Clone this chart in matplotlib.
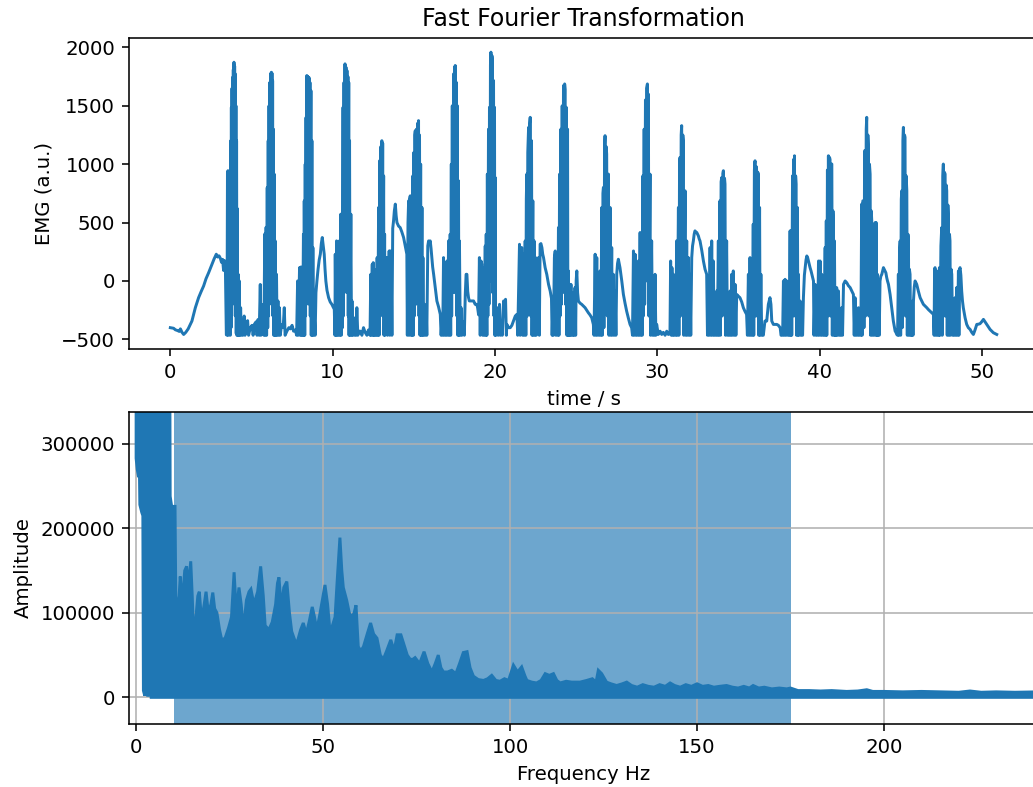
import numpy as np
import matplotlib
matplotlib.use('Agg')
import matplotlib.pyplot as plt
from matplotlib.ticker import MultipleLocator

# EMG trace as (time / s, amplitude / a.u.) pairs, split into chunks of ~10 s
emg_00_10 = [
    (0.00, -400), (0.20, -405), (0.31, -418), (0.45, -425), (0.55, -432), (0.62, -410), (0.72, -440),
    (0.82, -458), (0.95, -440), (1.10, -410), (1.33, -343), (1.54, -229), (1.74, -143), (1.90, -90),
    (2.05, -43), (2.20, 20), (2.36, 71), (2.57, 143), (2.70, 190), (2.83, 229), (2.92, 205), (3.00, 215),
    (3.08, 195), (3.15, 160), (3.22, 185), (3.28, 90), (3.33, 175), (3.39, 120), (3.45, -460),
    (3.49, -465), (3.52, 930), (3.55, 944), (3.57, -465), (3.60, 920), (3.62, -460), (3.66, 629),
    (3.69, -465), (3.72, 1200), (3.74, -400), (3.76, 1487), (3.78, -300), (3.80, 1650), (3.82, -200),
    (3.84, 1744), (3.86, -100), (3.88, 1810), (3.90, 0), (3.92, 1873), (3.94, 250), (3.96, 1840),
    (3.98, -100), (4.00, 1773), (4.02, -300), (4.04, 1500), (4.06, -450), (4.08, 1201), (4.10, -465),
    (4.12, 620), (4.15, -465), (4.18, 57), (4.21, -465), (4.25, 0), (4.28, -465), (4.33, -229),
    (4.37, -465), (4.42, -330), (4.47, -465), (4.55, -300), (4.60, -465), (4.68, -390), (4.76, -340),
    (4.82, -465), (4.93, -400), (5.03, -380), (5.10, -465), (5.18, -370), (5.28, -350), (5.34, -465),
    (5.40, -330), (5.47, -465), (5.54, -30), (5.58, -465), (5.64, -420), (5.72, -200), (5.76, -465),
    (5.82, 403), (5.85, -465), (5.90, 460), (5.93, -465), (5.97, 800), (6.00, -400), (6.03, 1201),
    (6.05, -300), (6.08, 1500), (6.10, -200), (6.13, 1700), (6.15, -100), (6.18, 1773), (6.20, 0),
    (6.22, 1787), (6.24, 200), (6.26, 1780), (6.28, -100), (6.30, 1716), (6.32, -300), (6.35, 1300),
    (6.37, -465), (6.40, 915), (6.43, -465), (6.46, 343), (6.50, -465), (6.54, 57), (6.58, -465),
    (6.63, -171), (6.67, -465), (6.72, -229), (6.77, -465), (6.85, -372), (6.95, -400), (7.02, -229),
    (7.07, -465), (7.18, -430), (7.30, -400), (7.39, -410), (7.50, -380), (7.59, -430), (7.70, -420),
    (7.78, -465), (7.84, 0), (7.88, -465), (7.96, 114), (8.00, -465), (8.05, 120), (8.08, -465),
    (8.11, 114), (8.15, -465), (8.20, 400), (8.23, -465), (8.25, 686), (8.28, -465), (8.31, 1000),
    (8.33, -300), (8.36, 1400), (8.38, -200), (8.41, 1759), (8.43, 0), (8.46, 1750), (8.48, -100),
    (8.50, 1745), (8.52, 100), (8.55, 1740), (8.57, -200), (8.60, 1700), (8.62, -300), (8.66, 1630),
    (8.68, -465), (8.72, 1201), (8.75, -465), (8.78, 286), (8.82, -465), (8.87, -300), (8.92, -465),
    (8.97, -100), (9.03, 0), (9.10, 100), (9.17, 180), (9.24, 229), (9.30, 320), (9.36, 372),
    (9.42, 300), (9.48, 229), (9.53, 100), (9.58, 0), (9.65, -80), (9.75, -143), (9.85, -180),
    (9.95, -200), (10.05, -229), (10.10, -240),
]

emg_10_20 = [
    (10.14, -465), (10.16, 229), (10.20, -465), (10.24, 343), (10.28, -465), (10.32, 280), (10.36, -465),
    (10.41, 343), (10.45, -465), (10.50, 572), (10.53, -465), (10.57, 572), (10.60, -400), (10.64, 1487),
    (10.66, -300), (10.70, 1700), (10.72, -100), (10.76, 1859), (10.78, 0), (10.82, 1830), (10.84, 100),
    (10.88, 1802), (10.90, -100), (10.94, 1750), (10.96, -300), (10.99, 1700), (11.01, -465),
    (11.04, 1201), (11.07, -465), (11.12, 572), (11.16, -465), (11.19, -171), (11.23, -465),
    (11.29, -314), (11.34, -465), (11.39, -400), (11.44, -465), (11.49, -229), (11.55, -465),
    (11.62, -430), (11.70, -430), (11.80, -465), (11.90, -400), (12.00, -440), (12.11, -465),
    (12.20, -420), (12.30, -465), (12.35, 57), (12.38, -465), (12.44, 143), (12.47, -465), (12.50, 157),
    (12.54, -465), (12.58, 100), (12.62, -465), (12.66, 57), (12.70, -465), (12.74, 200), (12.78, -465),
    (12.83, 629), (12.86, -465), (12.90, 1030), (12.93, -300), (12.97, 1150), (12.99, -200),
    (13.03, 1201), (13.05, -100), (13.08, 1180), (13.10, -300), (13.14, 900), (13.16, -465),
    (13.20, 400), (13.23, -465), (13.27, 200), (13.30, -400), (13.34, 200), (13.38, -465),
    (13.44, -372), (13.48, 257), (13.52, -465), (13.55, 257), (13.60, 200), (13.65, -465), (13.70, 450),
    (13.75, 514), (13.80, 600), (13.86, 658), (13.91, 560), (13.96, 500), (14.06, 470), (14.16, 457),
    (14.26, 420), (14.37, 372), (14.47, 300), (14.57, 229), (14.60, -465), (14.64, 500), (14.68, 686),
    (14.71, -465), (14.74, 700), (14.78, 729), (14.82, -465), (14.86, 450), (14.90, -465), (14.94, 900),
    (14.97, -465), (15.00, 1100), (15.03, -300), (15.06, 1250), (15.09, 1287), (15.12, -200),
    (15.16, 1300), (15.19, -100), (15.23, 1350), (15.26, 0), (15.29, 1373), (15.32, -300),
    (15.35, 1250), (15.38, -465), (15.42, 1000), (15.45, -465), (15.50, 629), (15.53, -465),
    (15.56, 200), (15.60, -465), (15.66, -200), (15.70, -465), (15.76, -229), (15.80, -465),
    (15.86, 300), (15.91, 343), (15.96, 330), (16.01, 343), (16.06, 280), (16.11, 200), (16.16, 120),
    (16.22, 57), (16.32, -60), (16.42, -171), (16.52, -220), (16.63, -286), (16.68, -465), (16.73, -343),
    (16.78, -465), (16.83, 200), (16.88, -465), (16.93, 100), (16.98, -465), (17.04, 171), (17.08, -465),
    (17.14, 343), (17.18, -465), (17.24, 400), (17.27, -465), (17.31, 1000), (17.33, -300),
    (17.37, 1500), (17.40, -100), (17.45, 1773), (17.47, 100), (17.51, 1830), (17.53, -100),
    (17.55, 1845), (17.58, 0), (17.62, 1700), (17.65, -300), (17.68, 1500), (17.71, -465), (17.75, 858),
    (17.78, -465), (17.81, 343), (17.86, -465), (17.91, -229), (17.96, -465), (18.01, -350),
    (18.06, -372), (18.11, -465), (18.17, -114), (18.22, 57), (18.27, 57), (18.32, -90), (18.37, -143),
    (18.42, -171), (18.47, -171), (18.57, -171), (18.68, -171), (18.78, -200), (18.88, -200),
    (18.93, -229), (18.99, -290), (19.04, 200), (19.09, -465), (19.14, 171), (19.19, 143), (19.24, -465),
    (19.30, 114), (19.34, -465), (19.40, 300), (19.43, -465), (19.46, 400), (19.50, -465), (19.53, 915),
    (19.56, -300), (19.60, 1300), (19.63, -200), (19.66, 1487), (19.69, 0), (19.72, 1850),
    (19.75, 1959), (19.78, 100), (19.81, 1930), (19.83, 1900), (19.86, -100), (19.91, 1716),
    (19.94, -300), (19.97, 1487), (19.99, -465),
]

emg_20_30 = [
    (20.01, 886), (20.04, -465), (20.07, -465), (20.12, -229), (20.16, -290), (20.20, -465),
    (20.28, -200), (20.33, -465), (20.38, -372), (20.45, -465), (20.53, -171), (20.59, -230),
    (20.65, -157), (20.70, -465), (20.73, -372), (20.84, -400), (20.94, -400), (21.04, -380),
    (21.14, -343), (21.25, -300), (21.35, -286), (21.40, -465), (21.45, -100), (21.51, 314),
    (21.55, -465), (21.60, 286), (21.65, 286), (21.70, -465), (21.76, 229), (21.80, -465), (21.86, 343),
    (21.90, -465), (21.93, 700), (21.96, 915), (21.99, -300), (22.02, 1100), (22.07, 1315),
    (22.10, -200), (22.14, 1350), (22.17, 1401), (22.20, -300), (22.25, 1201), (22.28, -465),
    (22.33, 686), (22.36, -465), (22.41, 343), (22.45, -465), (22.50, 200), (22.54, -465), (22.58, 114),
    (22.62, -200), (22.68, 200), (22.73, -465), (22.78, 314), (22.83, 320), (22.89, 286), (22.94, 229),
    (22.99, 200), (23.09, 114), (23.19, 57), (23.30, -30), (23.40, -86), (23.48, -150), (23.52, -465),
    (23.56, -257), (23.60, -465), (23.66, 200), (23.71, 257), (23.75, -465), (23.81, 229), (23.86, -465),
    (23.91, 457), (23.94, -465), (23.98, 915), (24.01, -300), (24.06, 1300), (24.09, -200),
    (24.14, 1500), (24.18, -100), (24.22, 1673), (24.25, 0), (24.29, 1687), (24.32, 1640),
    (24.35, -200), (24.39, 1487), (24.43, -465), (24.47, 1300), (24.49, -465), (24.52, 86),
    (24.56, -465), (24.60, -29), (24.63, -465), (24.68, -29), (24.71, -465), (24.76, -172),
    (24.80, -465), (24.83, -100), (24.88, -465), (24.93, -57), (24.97, -465), (25.00, 0), (25.04, 86),
    (25.09, -100), (25.14, -172), (25.24, -190), (25.34, -200), (25.45, -215), (25.55, -229),
    (25.65, -250), (25.75, -272), (25.85, -290), (25.96, -315), (26.06, -372), (26.10, -465),
    (26.17, 229), (26.21, -465), (26.27, 200), (26.31, -465), (26.37, 57), (26.42, -465), (26.47, 86),
    (26.52, -465), (26.58, 629), (26.61, -465), (26.65, 750), (26.68, 801), (26.71, -400), (26.75, 1100),
    (26.78, 1244), (26.81, -200), (26.85, 1150), (26.88, 1087), (26.92, -300), (26.99, 915),
    (27.02, -465), (27.09, 629), (27.13, -465), (27.19, 286), (27.23, -465), (27.29, 57), (27.34, -465),
    (27.40, -86), (27.45, -465), (27.50, 57), (27.55, 150), (27.60, 186), (27.65, 150), (27.70, 114),
    (27.81, 0), (27.91, -115), (28.01, -190), (28.11, -258), (28.22, -320), (28.32, -372),
    (28.42, -401), (28.47, -465), (28.53, 257), (28.57, -465), (28.63, 229), (28.68, -465), (28.73, 57),
    (28.78, -465), (28.83, 171), (28.88, -465), (28.94, 415), (28.98, -465), (29.04, 400), (29.07, -465),
    (29.11, 900), (29.14, -300), (29.19, 1300), (29.22, -200), (29.27, 1550), (29.30, 0), (29.34, 1650),
    (29.39, 1687), (29.42, 100), (29.45, 1600), (29.48, -300), (29.55, 915), (29.58, -465), (29.65, 343),
    (29.70, -465), (29.76, -458), (29.81, -465), (29.86, 57), (29.91, -465), (29.96, -372),
]

emg_30_40 = [
    (30.06, -458), (30.17, -430), (30.27, -458), (30.37, -440), (30.48, -465), (30.58, -430),
    (30.68, -458), (30.78, -450), (30.82, 171), (30.86, -465), (30.90, 114), (30.95, -465), (30.99, 57),
    (31.04, -465), (31.09, -29), (31.14, -465), (31.19, 343), (31.23, -465), (31.30, 629), (31.33, -465),
    (31.37, 1000), (31.40, 1058), (31.43, -300), (31.47, 1250), (31.50, 1330), (31.53, -200),
    (31.57, 1250), (31.60, 1201), (31.63, -465), (31.71, 772), (31.75, -465), (31.81, 343), (31.85, -465),
    (31.91, 200), (31.96, -465), (32.01, 57), (32.06, -465), (32.12, 200), (32.17, 300), (32.22, 343),
    (32.27, 400), (32.32, 429), (32.37, 420), (32.43, 415), (32.48, 400), (32.53, 386), (32.58, 360),
    (32.63, 343), (32.74, 260), (32.84, 171), (32.94, 100), (33.04, 57), (33.09, -465), (33.14, -29),
    (33.19, -465), (33.25, 286), (33.30, -465), (33.35, 343), (33.40, -465), (33.45, 171), (33.50, -465),
    (33.55, -401), (33.60, -465), (33.66, -86), (33.70, -465), (33.76, 343), (33.79, -465), (33.86, 686),
    (33.89, -465), (33.93, 850), (33.97, 886), (34.00, -300), (34.04, 920), (34.07, 944), (34.10, -200),
    (34.14, 880), (34.17, 829), (34.20, -465), (34.27, 343), (34.32, -465), (34.38, -458), (34.43, -465),
    (34.48, -86), (34.53, -465), (34.58, 57), (34.63, -465), (34.68, 86), (34.74, -465), (34.79, -29),
    (34.84, -465), (34.89, -115), (34.99, -130), (35.09, -143), (35.20, -180), (35.30, -229),
    (35.40, -260), (35.50, -286), (35.55, -465), (35.61, 57), (35.66, -465), (35.71, 200), (35.76, -465),
    (35.81, 57), (35.86, -465), (35.91, 486), (35.94, -465), (35.98, 950), (36.02, 1029), (36.05, -300),
    (36.09, 980), (36.12, 944), (36.15, -300), (36.19, 930), (36.22, 915), (36.25, -465), (36.30, 629),
    (36.33, -465), (36.38, 57), (36.43, -465), (36.48, -458), (36.53, -465), (36.63, -343),
    (36.74, -343), (36.84, -200), (36.94, -143), (37.00, -200), (37.05, -343), (37.15, -372),
    (37.26, -372), (37.36, -372), (37.46, -380), (37.57, -401), (37.62, -465), (37.67, -458),
    (37.72, -465), (37.77, 0), (37.82, -465), (37.87, 14), (37.92, -465), (37.98, 0), (38.03, -465),
    (38.08, -458), (38.13, -465), (38.18, 429), (38.21, -465), (38.25, 429), (38.28, -465), (38.33, 900),
    (38.36, -300), (38.39, 1040), (38.42, -200), (38.45, 1072), (38.48, -300), (38.52, 900), (38.55, 829),
    (38.58, -465), (38.63, 629), (38.66, -465), (38.69, 57), (38.74, -465), (38.80, -172), (38.85, -465),
    (38.90, -458), (38.95, -465), (39.00, -143), (39.06, 50), (39.11, 114), (39.16, 180), (39.21, 214),
    (39.26, 200), (39.31, 171), (39.36, 140), (39.41, 114), (39.47, 86), (39.52, 57), (39.57, 30),
    (39.62, 0), (39.65, -465), (39.72, -29), (39.77, -465), (39.82, -86), (39.87, -465), (39.93, 171),
    (39.97, -465),
]

emg_40_51 = [
    (40.03, 171), (40.08, -465), (40.13, 57), (40.18, -465), (40.23, -458), (40.28, -465), (40.34, 286),
    (40.37, -465), (40.41, 515), (40.44, -465), (40.48, 950), (40.51, -300), (40.54, 1072),
    (40.57, -200), (40.61, 1058), (40.64, 1040), (40.67, -300), (40.71, 1000), (40.75, 1001),
    (40.78, -465), (40.82, 600), (40.85, 486), (40.88, -465), (40.91, 343), (40.95, -465), (40.99, -458),
    (41.02, -465), (41.05, -57), (41.10, -465), (41.16, -86), (41.21, -465), (41.26, -458), (41.31, -465),
    (41.36, -229), (41.41, -465), (41.47, -29), (41.57, 0), (41.67, -15), (41.77, -40), (41.88, -57),
    (41.98, -86), (42.08, -115), (42.13, -465), (42.18, -143), (42.23, -465), (42.29, -458),
    (42.34, -465), (42.39, -229), (42.44, -465), (42.49, -343), (42.54, -465), (42.59, 658),
    (42.62, -465), (42.66, 686), (42.70, 686), (42.73, -400), (42.77, 1115), (42.80, 1115),
    (42.83, -300), (42.87, 1300), (42.90, 1401), (42.93, -200), (42.97, 1250), (43.00, 1144),
    (43.03, -300), (43.07, 1000), (43.11, 915), (43.14, -465), (43.18, 600), (43.21, 515), (43.24, -465),
    (43.28, 200), (43.31, 200), (43.34, -465), (43.38, 486), (43.42, 500), (43.45, -465), (43.48, 500),
    (43.52, -465), (43.56, 57), (43.59, -465), (43.62, -57), (43.67, -465), (43.72, 0), (43.77, 40),
    (43.83, 57), (43.88, 86), (43.93, 114), (43.98, 100), (44.03, 86), (44.08, 70), (44.13, 30),
    (44.18, 0), (44.24, -29), (44.29, -70), (44.34, -115), (44.39, -172), (44.44, -229), (44.49, -290),
    (44.54, -343), (44.59, -380), (44.65, -429), (44.70, -440), (44.75, -458), (44.80, -465),
    (44.85, 57), (44.88, -465), (44.92, 250), (44.96, 343), (44.99, -465), (45.03, 700), (45.06, 772),
    (45.09, -400), (45.13, 1200), (45.16, 1315), (45.19, -200), (45.23, 1250), (45.26, 1230),
    (45.29, -300), (45.33, 900), (45.37, 772), (45.40, -465), (45.44, 400), (45.47, 343), (45.50, -465),
    (45.53, 100), (45.57, 57), (45.60, -465), (45.63, -458), (45.67, -465), (45.72, -172), (45.75, -465),
    (45.78, -172), (45.83, -50), (45.88, 0), (45.93, -15), (45.98, -29), (46.08, -86), (46.19, -143),
    (46.29, -172), (46.39, -200), (46.50, -215), (46.60, -229), (46.70, -245), (46.80, -258),
    (46.90, -270), (47.01, -286), (47.05, -465), (47.08, 100), (47.11, 114), (47.15, -465), (47.18, 86),
    (47.21, 86), (47.25, -465), (47.30, -458), (47.34, -465), (47.38, 114), (47.42, -465), (47.47, 300),
    (47.52, 457), (47.55, -465), (47.59, 900), (47.62, 1001), (47.65, -300), (47.69, 930), (47.73, 915),
    (47.76, -300), (47.80, 820), (47.83, 772), (47.86, -465), (47.90, 650), (47.93, 543), (47.96, -465),
    (48.00, 400), (48.03, 343), (48.06, -465), (48.10, 100), (48.14, 57), (48.19, -465), (48.24, -458),
    (48.29, -465), (48.34, -143), (48.39, -465), (48.44, -57), (48.49, -465), (48.55, 86), (48.58, -465),
    (48.62, 100), (48.65, 114), (48.70, 50), (48.75, -86), (48.80, -172), (48.85, -229), (48.90, -270),
    (48.96, -315), (49.06, -372), (49.16, -400), (49.27, -415), (49.37, -440), (49.47, -458),
    (49.57, -420), (49.68, -372), (49.78, -370), (49.88, -366), (49.98, -350), (50.09, -329),
    (50.19, -350), (50.29, -372), (50.40, -395), (50.50, -415), (50.60, -429), (50.70, -443),
    (50.80, -450), (50.91, -458),
]

# amplitude spectrum band: upper edge (peaks) and lower edge, (frequency / Hz, amplitude)
fft_upper = [
    (0.0, 400000), (9.0, 400000), (9.1, 238000), (9.5, 226000), (10.4, 226000), (10.6, 120000),
    (10.9, 100000), (11.5, 120000), (11.8, 143000), (12.3, 110000), (13.0, 150000), (13.5, 155000),
    (14.0, 130000), (14.6, 161000), (15.0, 120000), (15.3, 83000), (16.0, 95000), (16.5, 120000),
    (16.9, 125000), (17.5, 90000), (18.2, 110000), (18.7, 125000), (19.3, 100000), (20.0, 110000),
    (20.5, 124000), (21.0, 105000), (21.6, 100000), (22.3, 80000), (22.9, 68000), (23.8, 70000),
    (24.7, 82000), (25.5, 95000), (26.2, 148000), (26.8, 100000), (27.5, 130000), (28.1, 110000),
    (28.7, 80000), (29.5, 115000), (30.2, 125000), (30.7, 128000), (31.5, 110000), (32.5, 125000),
    (33.3, 155000), (34.0, 120000), (34.5, 85000), (35.5, 80000), (36.4, 89000), (37.3, 110000),
    (37.8, 135000), (38.2, 142000), (38.8, 105000), (39.5, 130000), (40.3, 137000), (41.0, 100000),
    (41.6, 78000), (42.4, 68000), (43.0, 64000), (44.0, 80000), (44.7, 88000), (45.5, 75000),
    (46.3, 90000), (47.1, 107000), (47.7, 95000), (48.3, 80000), (49.0, 95000), (49.8, 115000),
    (50.5, 133000), (51.2, 110000), (51.9, 75000), (52.5, 85000), (53.2, 95000), (53.8, 140000),
    (54.5, 189000), (55.0, 150000), (55.4, 130000), (56.3, 115000), (57.0, 100000), (57.7, 95000),
    (58.3, 100000), (58.8, 109000), (59.4, 60000), (60.1, 55000), (60.8, 60000), (61.8, 75000),
    (62.7, 88000), (63.5, 75000), (64.4, 70000), (65.3, 50000), (66.1, 45000), (67.0, 55000),
    (68.1, 68000), (69.0, 55000), (69.8, 74000), (70.8, 74000), (71.8, 60000), (72.5, 50000),
    (73.3, 45000), (74.0, 45000), (74.6, 47000), (75.8, 40000), (77.0, 54000), (78.0, 40000),
    (79.1, 30000), (80.0, 40000), (80.8, 50000), (81.5, 35000), (82.2, 30000), (83.3, 30000),
    (84.4, 32000), (85.5, 28000), (86.5, 40000), (87.5, 53000), (88.5, 54000), (89.3, 35000),
    (90.2, 25000), (91.5, 21000), (92.9, 20000), (94.0, 22000), (95.1, 26000), (96.2, 20000),
    (97.3, 19000), (98.5, 22000), (99.6, 20000), (100.9, 38000), (102.0, 30000), (103.1, 36000),
    (104.0, 25000), (104.5, 20000), (105.8, 18000), (107.1, 17000), (108.3, 20000), (109.4, 28000),
    (110.5, 26000), (111.6, 28000), (112.5, 20000), (113.4, 17000), (115.0, 19000), (116.5, 18000),
    (118.7, 18000), (120.5, 20000), (122.0, 22000), (123.0, 18000), (123.6, 32000), (124.5, 28000),
    (125.8, 18000), (127.0, 16000), (128.5, 14000), (130.0, 16000), (131.2, 18000), (132.5, 14000),
    (134.0, 12000), (135.5, 15000), (137.0, 13000), (138.5, 12000), (140.0, 15000), (141.5, 13000),
    (142.8, 17000), (144.0, 14000), (145.5, 12000), (147.0, 15000), (148.5, 13000), (150.0, 16000),
    (151.5, 13000), (153.0, 14000), (154.5, 12000), (156.0, 13000), (157.9, 14000), (159.5, 12000),
    (161.0, 11000), (162.5, 13000), (164.0, 11000), (165.0, 14000), (166.5, 11000), (168.0, 12000),
    (170.0, 10000), (172.0, 11000), (174.0, 10000), (175.0, 11000), (177.0, 8000), (180.0, 8000),
    (183.0, 7500), (186.0, 8000), (190.0, 7000), (193.0, 7500), (195.4, 9000), (197.0, 7000),
    (200.0, 7000), (205.0, 6500), (210.0, 7000), (215.0, 6500), (220.0, 6000), (223.0, 7500),
    (226.0, 6000), (230.0, 6500), (235.0, 6000), (241.5, 6500),
]
fft_lower = [
    (0.0, 283000), (0.3, 270000), (0.6, 262000), (0.9, 262000), (1.0, 228000), (1.5, 219000),
    (1.8, 215000), (1.95, 8000), (2.3, 2000), (2.7, 12000), (3.1, 1000), (3.6, 10000), (4.0, 0),
    (241.5, 0),
]

band_lo, band_hi = 10, 175


def unzip(*chunks):
    pts = [p for chunk in chunks for p in chunk]
    return np.array([p[0] for p in pts]), np.array([p[1] for p in pts])


time, emg = unzip(emg_00_10, emg_10_20, emg_20_30, emg_30_40, emg_40_51)
f_up, a_up = unzip(fft_upper)
f_lo, a_lo = unzip(fft_lower)

dpi = 142
fig = plt.figure(figsize=(1033 / dpi, 787 / dpi), dpi=dpi)

# raw signal
ax1 = fig.add_axes([0.1249, 0.5560, 0.8800, 0.3957])
ax1.plot(time, emg, color='C0')
ax1.set_title('Fast Fourier Transformation')
ax1.set_xlabel('time / s')
ax1.set_ylabel('EMG (a.u.)')

# spectrum with the analysed band shaded
ax2 = fig.add_axes([0.1249, 0.0800, 0.8800, 0.3965])
ax2.axvspan(band_lo, band_hi, color='C0', alpha=0.65, lw=0)
ax2.fill(np.concatenate([f_up, f_lo[::-1]]), np.concatenate([a_up, a_lo[::-1]]),
         color='C0', lw=1.5, zorder=2)
ax2.set_xlim(-1.9, 241.2)
ax2.set_ylim(-31600, 337700)
ax2.yaxis.set_major_locator(MultipleLocator(100000))
ax2.set_xlabel('Frequency Hz')
ax2.set_ylabel('Amplitude')
ax2.grid(True)

fig.savefig('out.png', dpi=dpi)
